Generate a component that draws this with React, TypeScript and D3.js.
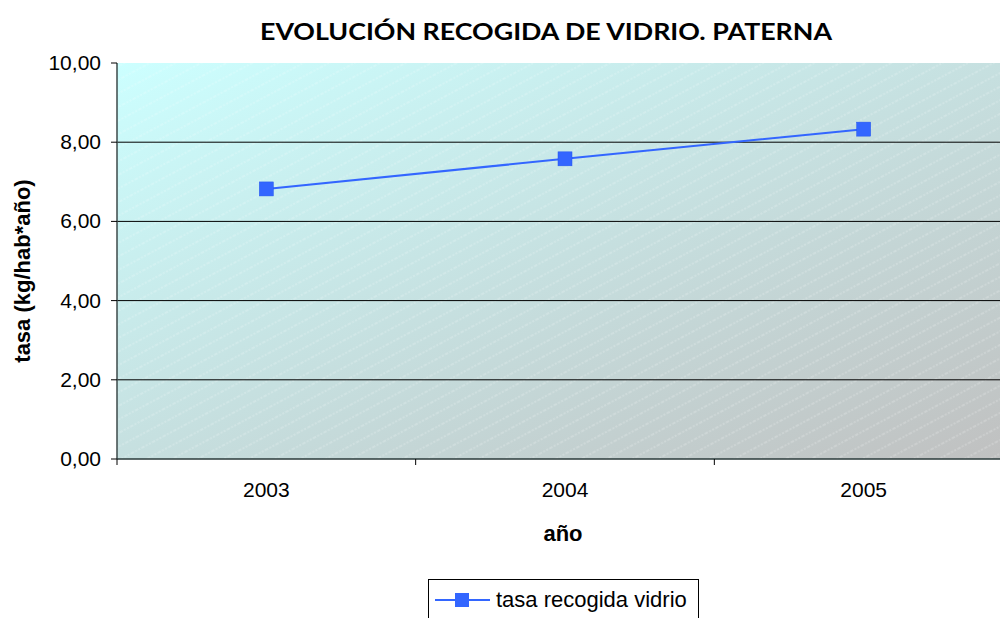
import React from 'react';
import * as d3 from 'd3';

const years = ['2003', '2004', '2005'];
const tasa = [6.82, 7.58, 8.33];
const yTicks = [0, 2, 4, 6, 8, 10];

const W = 1000;
const H = 618;
const left = 117;
const top = 63;
const bottom = 459;
const right = 1013;

const App: React.FC = () => {
  const x = d3.scaleBand<string>().domain(years).range([left, right]).padding(0);
  const y = d3.scaleLinear().domain([0, 10]).range([bottom, top]);
  const cx = (d: string) => (x(d) ?? 0) + x.bandwidth() / 2;
  const fmt = (v: number) => v.toFixed(2).replace('.', ',');

  const line = d3
    .line<number>()
    .x((_, i) => cx(years[i]))
    .y((d) => y(d));

  const sans = 'Arial, "Liberation Sans", sans-serif';

  return (
    <svg
      width={W}
      height={H}
      style={{ position: 'absolute', left: 0, top: 0, background: '#fff' }}
    >
      <defs>
        <linearGradient id="bg" x1="0" y1="0" x2="1" y2="1">
          <stop offset="0" stopColor="#ccffff" />
          <stop offset="1" stopColor="#c0c0c0" />
        </linearGradient>
        <pattern
          id="hatch"
          width="12"
          height="12"
          patternUnits="userSpaceOnUse"
          patternTransform="rotate(-28)"
        >
          <line x1="0" y1="6" x2="12" y2="6" stroke="#ffffff" strokeWidth="0.8" strokeDasharray="2 1.5" opacity="0.45" />
        </pattern>
      </defs>

      <text
        x={546}
        y={40}
        textAnchor="middle"
        fontFamily='Lato, "Open Sans", sans-serif'
        fontWeight="bold"
        fontSize={23}
        textLength={572}
        lengthAdjust="spacingAndGlyphs"
        fill="#000"
      >
        EVOLUCIÓN RECOGIDA DE VIDRIO. PATERNA
      </text>

      <rect x={left} y={top} width={right - left} height={bottom - top} fill="url(#bg)" />
      <rect x={left} y={top} width={right - left} height={bottom - top} fill="url(#hatch)" />

      {yTicks
        .filter((t) => t > 0 && t < 10)
        .map((t) => (
          <line key={t} x1={left} x2={right} y1={y(t)} y2={y(t)} stroke="#000" strokeWidth={1} />
        ))}

      <line x1={left} x2={left} y1={top} y2={bottom} stroke="#3c4a4a" strokeWidth={1.5} />
      <line x1={left} x2={right} y1={bottom} y2={bottom} stroke="#2a3a3a" strokeWidth={1.5} />

      {yTicks.map((t) => (
        <g key={t}>
          <line x1={left - 6} x2={left} y1={y(t)} y2={y(t)} stroke="#000" />
          <text x={101} y={y(t) + 7} textAnchor="end" fontFamily={sans} fontSize={21} fill="#000">
            {fmt(t)}
          </text>
        </g>
      ))}

      {[...years.map((d) => x(d) ?? 0), right].map((px, i) => (
        <line key={i} x1={px} x2={px} y1={bottom} y2={bottom + 6} stroke="#000" />
      ))}
      {years.map((d) => (
        <text key={d} x={cx(d)} y={497} textAnchor="middle" fontFamily={sans} fontSize={21} fill="#000">
          {d}
        </text>
      ))}

      <text x={563} y={541} textAnchor="middle" fontFamily={sans} fontWeight="bold" fontSize={22} fill="#000">
        año
      </text>
      <text
        transform={`translate(30,${(175 + 367) / 2}) rotate(-90)`}
        textAnchor="middle"
        fontFamily={sans}
        fontWeight="bold"
        fontSize={22}
        fill="#000"
      >
        tasa (kg/hab*año)
      </text>

      <path d={line(tasa) ?? ''} fill="none" stroke="#3366ff" strokeWidth={2} />
      {tasa.map((v, i) => (
        <rect key={i} x={cx(years[i]) - 7} y={y(v) - 7} width={14} height={14} fill="#3366ff" stroke="#2255ee" strokeWidth={0.5} />
      ))}

      <rect x={428.5} y={579.5} width={270} height={60} fill="#fff" stroke="#000" strokeWidth={1} />
      <line x1={435} x2={490} y1={600} y2={600} stroke="#3366ff" strokeWidth={2} />
      <rect x={455} y={593} width={14} height={14} fill="#3366ff" />
      <text x={496} y={607} fontFamily={sans} fontSize={22} fill="#000">
        tasa recogida vidrio
      </text>
    </svg>
  );
};

export default App;
